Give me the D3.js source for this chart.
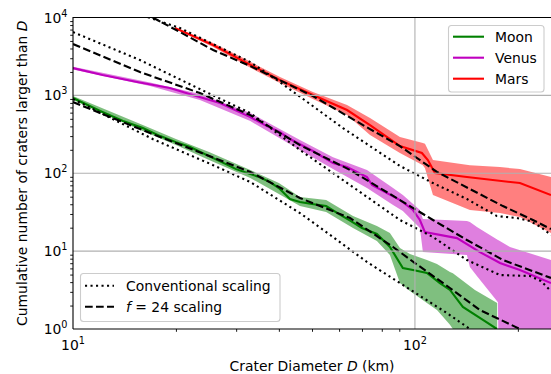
<!DOCTYPE html>
<html>
<head>
<meta charset="utf-8">
<script src="https://cdn.jsdelivr.net/npm/d3@7"></script>
<style>
  body { margin: 0; background: #fff; }
  svg { display: block; font-family: "DejaVu Sans", sans-serif; }
</style>
</head>
<body>
<div id="chart"></div>
<script>
// crater counts (D in km, N = cumulative count)
var moonD = [10, 12, 14, 16, 18, 20, 22, 25, 28, 30, 33, 35, 37.7, 40, 43.1, 46.1, 50, 55, 60, 65, 70, 77.4, 84.5, 92.2, 98.7, 108.4, 118.3, 126.6, 138.1, 158.1, 173.7];
var moonN = [924, 629, 468, 380, 300, 251, 217, 166, 131, 113, 97.7, 89.4, 77.1, 64.6, 46.7, 42.7, 40.3, 37.9, 29.9, 24.3, 19.8, 16.6, 11.3, 6.07, 5.72, 5.24, 3.89, 3.17, 1.92, 1.31, 1.0];
var moonBandD = [10, 16, 20, 25, 33, 40, 46.1, 55, 65.9, 77.4, 84.5, 90.4, 96.7, 108.4, 116, 126.6, 129.1, 149.8, 174];
var moonHi = [979, 415, 275, 187, 110, 75, 49.5, 45.3, 28.2, 21.0, 17.1, 11.0, 9.18, 7.69, 6.83, 5.39, 5.2, 3.17, 2.16];
var moonLo = [871, 348, 230, 148, 86.8, 54.1, 37.9, 31.8, 19.8, 13.5, 8.91, 3.89, 3.07, 2.16, 1.75, 1.13, 1.0, 0.6, 0.5];

var venusD = [10, 12.2, 15.4, 19.2, 22.4, 26.9, 33, 36.9, 40.3, 43.1, 50.3, 57.6, 63.3, 72.4, 74.9, 90.4, 98.7, 103.4, 106.9, 132.7, 154.9, 177.3, 202.8, 250];
var venusN = [2240, 1822, 1482, 1241, 1009, 797, 526, 403, 338, 275, 193, 135, 120, 89.4, 70.6, 45.3, 33.7, 25.1, 17.6, 14.7, 9.73, 7.03, 5.72, 3.89];
var venusBandD = [10, 16.8, 23.5, 33, 46.1, 57.6, 72.4, 86.3, 92.2, 103.4, 105.5, 141.9, 144.8, 151.8, 174.9, 175.6, 189.6, 250];
var venusHi = [2330, 1460, 1040, 592, 267, 161, 110, 64.6, 52.5, 33.7, 25.8, 24.3, 23.6, 20.4, 13.9, 13.8, 11.3, 7.69];
var venusLo = [2150, 1320, 871, 468, 199, 113, 64.6, 39.0, 32.7, 19.8, 9.73, 8.91, 6.25, 4.8, 2.2, 0.5, 0.5, 0.5];

var marsD = [19.9, 25.7, 32.3, 40.3, 50.3, 63.3, 73.9, 80.6, 90.4, 104.8, 109.1, 114.4, 141.9, 202.8, 250];
var marsN = [7310, 4424, 2600, 1570, 1009, 648, 415, 319, 223, 182, 148, 100.6, 89.4, 74.8, 52.5];
var marsBandD = [19.9, 25.7, 32.3, 40.3, 50.3, 63.3, 73.9, 90.4, 105.5, 107, 112.9, 144.8, 177.3, 202.8, 250];
var marsHi = [7530, 4693, 2840, 1718, 1103, 750, 511, 291, 244, 240, 148, 127, 120, 113, 89.4];
var marsLo = [7100, 4170, 2377, 1439, 897, 558, 309, 182, 127, 116, 52.5, 33.7, 30.8, 27.4, 17.1];

// model curves
var moonConvD = [10, 17.1, 25.7, 33, 46.1, 57.6, 72.4, 90.4, 124.1, 144.8];
var moonConvN = [897, 275, 127, 77.1, 30.8, 15.2, 7.25, 3.89, 1.6, 1.0];
var moonF24D = [10, 16.8, 33, 46.1, 64.6, 86.3, 100, 126.6, 154.9, 202.8];
var moonF24N = [820, 328, 104, 48.1, 26.6, 11.3, 7.03, 3.36, 1.75, 1.0];

var venusConvD = [10, 15.7, 23.5, 33, 46.1, 64.6, 90.4, 112.9, 141.9, 177.3, 216.9, 233.6, 250];
var venusConvN = [6500, 2840, 1205, 592, 199, 70.6, 25.1, 15.2, 7.69, 4.93, 4.79, 4.13, 3.07];
var venusF24D = [10, 15.7, 23.5, 33, 46.1, 64.6, 90.4, 112.9, 141.9, 180.9, 250];
var venusF24N = [4560, 1991, 1071, 558, 230, 110, 45.3, 25.1, 13.9, 7.69, 4.52];

var marsConvD = [16.57, 20.56, 33, 40.3, 61.6, 73.9, 90.4, 112.9, 141.9, 173.7, 198.8, 216.9, 233.6, 250];
var marsConvN = [10100, 7310, 2675, 1482, 380, 223, 124, 74.8, 46.7, 28.2, 26.6, 24.3, 20.4, 16.1];
var marsF24D = [17.02, 20.56, 25.7, 33, 50.3, 73.9, 90.4, 116, 144.8, 180.9, 221.3, 250];
var marsF24N = [10100, 6500, 3820, 2377, 979, 369, 223, 104, 62.7, 37.9, 25.1, 19.2];

// ticks
var xMajor = [10, 100];
var xMinor = [20, 30, 40, 50, 60, 70, 80, 90, 200];
var yMajor = [1, 10, 100, 1000, 10000];
var yMinor = [];
[1, 10, 100, 1000].forEach(function(p) {
  for (var k = 2; k <= 9; k++) yMinor.push(p * k);
});

var planets = ["Moon", "Venus", "Mars"];
var colors = ["#008000", "#bf00bf", "#ff0000"];

window.onload = function() {
  var width = 551, height = 374;
  var left = 73, right = 551, top = 17.5, bottom = 329;
  var fs = 13.9;

  var svg = d3.select("#chart").append("svg")
              .attr("width", width)
              .attr("height", height);

  var x = d3.scaleLog().domain([10, 250]).range([left, right]);
  var y = d3.scaleLog().domain([1, 10000]).range([bottom, top]);

  svg.append("clipPath").attr("id", "clip")
     .append("rect").attr("x", left).attr("y", top)
     .attr("width", right - left).attr("height", bottom - top);

  var plot = svg.append("g").attr("clip-path", "url(#clip)");

  function zip(ds, ns) {
    return ds.map(function(d, i) { return [d, ns[i]]; });
  }

  var line = d3.line()
               .x(function(d) { return x(d[0]); })
               .y(function(d) { return y(d[1]); });
  var area = d3.area()
               .x(function(d) { return x(d[0]); })
               .y0(function(d) { return y(d[1]); })
               .y1(function(d) { return y(d[2]); });

  var bands = [
    [moonBandD, moonLo, moonHi],
    [venusBandD, venusLo, venusHi],
    [marsBandD, marsLo, marsHi]
  ];
  var series = [[moonD, moonN], [venusD, venusN], [marsD, marsN]];

  // uncertainty bands
  bands.forEach(function(b, i) {
    var pts = b[0].map(function(d, j) { return [d, b[1][j], b[2][j]]; });
    plot.append("path")
        .attr("d", area(pts))
        .attr("fill", colors[i])
        .attr("fill-opacity", 0.5)
        .attr("stroke", "none");
  });

  // grid (major only)
  var grid = svg.append("g");
  grid.selectAll(".gx").data([100]).enter().append("line")
      .attr("x1", function(d) { return x(d); }).attr("x2", function(d) { return x(d); })
      .attr("y1", top).attr("y2", bottom)
      .attr("stroke", "#b0b0b0").attr("stroke-width", 1.1);
  grid.selectAll(".gy").data([10, 100, 1000]).enter().append("line")
      .attr("y1", function(d) { return y(d); }).attr("y2", function(d) { return y(d); })
      .attr("x1", left).attr("x2", right)
      .attr("stroke", "#b0b0b0").attr("stroke-width", 1.1);

  // observed curves
  series.forEach(function(s, i) {
    plot.append("path")
        .attr("d", line(zip(s[0], s[1])))
        .attr("fill", "none")
        .attr("stroke", colors[i])
        .attr("stroke-width", 2.1);
  });

  // model curves
  var models = [
    [moonConvD, moonConvN, "conv"], [venusConvD, venusConvN, "conv"], [marsConvD, marsConvN, "conv"],
    [moonF24D, moonF24N, "f24"], [venusF24D, venusF24N, "f24"], [marsF24D, marsF24N, "f24"]
  ];
  models.forEach(function(m) {
    plot.append("path")
        .attr("d", line(zip(m[0], m[1])))
        .attr("fill", "none")
        .attr("stroke", "#000")
        .attr("stroke-width", 2.1)
        .attr("stroke-dasharray", m[2] == "conv" ? "2.1,3.4" : "7.7,3.3");
  });

  // spines
  svg.append("path")
     .attr("d", "M" + left + "," + bottom + "V" + top + "H" + (right + 2))
     .attr("fill", "none").attr("stroke", "#000").attr("stroke-width", 1.1);
  svg.append("path")
     .attr("d", "M" + left + "," + bottom + "H" + (right + 2))
     .attr("fill", "none").attr("stroke", "#000").attr("stroke-width", 1.1);

  // ticks
  var xAxis = svg.append("g").attr("transform", "translate(0," + bottom + ")");
  xAxis.call(d3.axisBottom(x).tickValues(xMajor).tickSize(4.9).tickFormat(""));
  xAxis.call(d3.axisBottom(x).tickValues(xMinor).tickSize(2.8).tickFormat(""));
  var yAxis = svg.append("g").attr("transform", "translate(" + left + ",0)");
  yAxis.call(d3.axisLeft(y).tickValues(yMajor).tickSize(4.9).tickFormat(""));
  yAxis.call(d3.axisLeft(y).tickValues(yMinor).tickSize(2.8).tickFormat(""));
  svg.selectAll(".domain").remove();
  svg.selectAll(".tick line").attr("stroke", "#000").attr("stroke-width", 0.9);

  function powLabel(sel, p) {
    sel.append("tspan").text("10");
    sel.append("tspan").attr("dy", -6).attr("font-size", 9.7).text(p);
  }

  xMajor.forEach(function(v) {
    var t = svg.append("text")
               .attr("x", x(v)).attr("y", 350)
               .attr("text-anchor", "middle")
               .attr("font-size", fs).attr("fill", "#000");
    powLabel(t, Math.round(Math.log10(v)));
  });
  yMajor.forEach(function(v) {
    var t = svg.append("text")
               .attr("x", 67.5).attr("y", y(v) + 5)
               .attr("text-anchor", "end")
               .attr("font-size", fs).attr("fill", "#000");
    powLabel(t, Math.round(Math.log10(v)));
  });

  // axis titles
  var xl = svg.append("text")
              .attr("x", (left + right) / 2).attr("y", 371)
              .attr("text-anchor", "middle")
              .attr("font-size", fs);
  xl.append("tspan").text("Crater Diameter ");
  xl.append("tspan").attr("font-style", "italic").text("D");
  xl.append("tspan").text(" (km)");

  var yl = svg.append("text")
              .attr("transform", "translate(26.5," + ((top + bottom) / 2) + ") rotate(-90)")
              .attr("text-anchor", "middle")
              .attr("font-size", fs);
  yl.append("tspan").text("Cumulative number of craters larger than ");
  yl.append("tspan").attr("font-style", "italic").text("D");

  // legend: planets
  var lg1 = svg.append("g");
  lg1.append("rect")
     .attr("x", 448.5).attr("y", 25.5).attr("width", 95.5).attr("height", 66.5)
     .attr("rx", 3).attr("fill", "#fff").attr("fill-opacity", 0.8)
     .attr("stroke", "#ccc").attr("stroke-width", 1.1);
  planets.forEach(function(p, i) {
    var cy = 36.7 + i * 21;
    lg1.append("line")
       .attr("x1", 453).attr("x2", 484).attr("y1", cy).attr("y2", cy)
       .attr("stroke", colors[i]).attr("stroke-width", 2.1);
    lg1.append("text")
       .attr("x", 495).attr("y", cy + 5)
       .attr("font-size", fs).text(p);
  });

  // legend: model styles
  var lg2 = svg.append("g");
  lg2.append("rect")
     .attr("x", 80.5).attr("y", 273.5).attr("width", 199.5).attr("height", 48)
     .attr("rx", 3).attr("fill", "#fff").attr("fill-opacity", 0.8)
     .attr("stroke", "#ccc").attr("stroke-width", 1.1);
  lg2.append("line")
     .attr("x1", 85).attr("x2", 114).attr("y1", 285.7).attr("y2", 285.7)
     .attr("stroke", "#000").attr("stroke-width", 2.1).attr("stroke-dasharray", "2.1,3.4");
  lg2.append("text").attr("x", 126).attr("y", 290.7)
     .attr("font-size", fs).text("Conventional scaling");
  lg2.append("line")
     .attr("x1", 85).attr("x2", 114).attr("y1", 306.7).attr("y2", 306.7)
     .attr("stroke", "#000").attr("stroke-width", 2.1).attr("stroke-dasharray", "7.7,3.3");
  var t2 = lg2.append("text").attr("x", 126).attr("y", 311.7).attr("font-size", fs);
  t2.append("tspan").attr("font-style", "italic").text("f");
  t2.append("tspan").text(" = 24 scaling");
};
</script>
</body>
</html>
